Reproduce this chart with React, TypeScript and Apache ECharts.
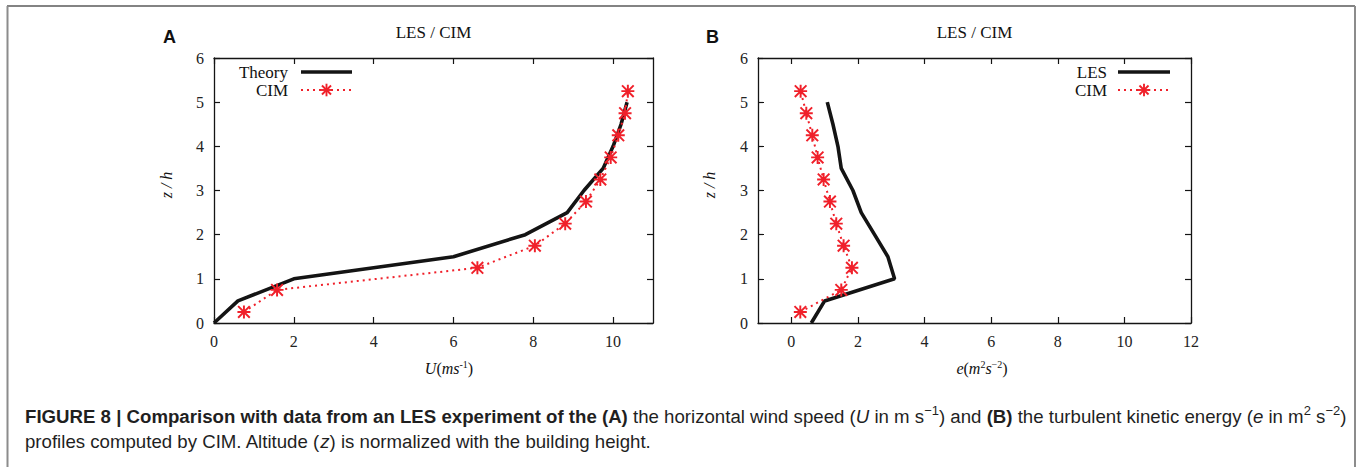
import React, { useEffect, useRef } from "react";
import * as echarts from "echarts";

// ---- data ----
const zLevels = [0, 0.5, 1, 1.5, 2, 2.5, 3, 3.5, 4, 4.5, 5];
const cimLevels = [0.25, 0.75, 1.25, 1.75, 2.25, 2.75, 3.25, 3.75, 4.25, 4.75, 5.25];
const theoryU = [0, 0.6, 2.0, 6.0, 7.8, 8.85, 9.27, 9.75, 10.0, 10.2, 10.35];
const cimU = [0.75, 1.58, 6.6, 8.04, 8.8, 9.32, 9.68, 9.94, 10.13, 10.3, 10.37];
const lesE = [0.6, 1.0, 3.1, 2.9, 2.5, 2.1, 1.85, 1.5, 1.4, 1.25, 1.08];
const cimE = [0.27, 1.5, 1.82, 1.57, 1.35, 1.16, 0.97, 0.79, 0.63, 0.45, 0.28];
const xTicksA = [0, 2, 4, 6, 8, 10];
const xTicksB = [0, 2, 4, 6, 8, 10, 12];
const yTicks = [0, 1, 2, 3, 4, 5, 6];
const panelTitles = ["LES / CIM", "LES / CIM"];
const legendA = ["Theory", "CIM"];
const legendB = ["LES", "CIM"];

const SERIF = "'Liberation Serif', 'Times New Roman', serif";
const SANS = "'Liberation Sans', Arial, Helvetica, sans-serif";
const RED = "#f0202a";
const BLACK = "#141414";
const ASTERISK =
  "path://M0 8.5H20V11.5H0Z M8.5 0H11.5V20H8.5Z M2.1 0L20 17.9L17.9 20L0 2.1Z M17.9 0L20 2.1L2.1 20L0 17.9Z";

const zip = (xs: number[], ys: number[]) => xs.map((x, i) => [x, ys[i]]);

function xAxisDef(grid: number, min: number, max: number, ticks: number[], pos: "bottom" | "top") {
  const showLabel = pos === "bottom";
  return {
    type: "value",
    gridIndex: grid,
    position: pos,
    min,
    max,
    splitLine: { show: false },
    axisLine: { show: true, onZero: false, lineStyle: { color: BLACK, width: 1.3 } },
    axisTick: { show: true, inside: true, length: 6, customValues: ticks, lineStyle: { color: BLACK, width: 1.2 } },
    axisLabel: {
      show: showLabel,
      customValues: ticks,
      margin: 10,
      color: "#222",
      fontFamily: SERIF,
      fontSize: 16,
    },
  };
}

function yAxisDef(grid: number, pos: "left" | "right") {
  const showLabel = pos === "left";
  return {
    type: "value",
    gridIndex: grid,
    position: pos,
    min: 0,
    max: 6,
    interval: 1,
    splitLine: { show: false },
    axisLine: { show: true, onZero: false, lineStyle: { color: BLACK, width: 1.3 } },
    axisTick: { show: true, inside: true, length: 6, customValues: yTicks, lineStyle: { color: BLACK, width: 1.2 } },
    axisLabel: {
      show: showLabel,
      customValues: yTicks,
      margin: 10,
      color: "#222",
      fontFamily: SERIF,
      fontSize: 16,
    },
  };
}

const lineSolid = (name: string, data: number[][], axis: number) => ({
  name,
  type: "line",
  xAxisIndex: axis,
  yAxisIndex: axis,
  data,
  symbol: "none",
  z: 2,
  lineStyle: { color: BLACK, width: 3.6 },
  itemStyle: { color: BLACK },
});

const lineCim = (name: string, data: number[][], axis: number) => ({
  name,
  type: "line",
  xAxisIndex: axis,
  yAxisIndex: axis,
  data,
  symbol: ASTERISK,
  symbolSize: 13,
  z: 3,
  lineStyle: { color: RED, width: 2, type: [2, 4] },
  itemStyle: { color: RED },
});

// manual gnuplot-style legend: label right-aligned, sample to its right
function legendGraphics(labels: string[], textRight: number, x1: number, x2: number, y0: number) {
  const out: any[] = [];
  const gap = 18;
  out.push({ type: "text", x: textRight, y: y0, style: { text: labels[0], font: `17px ${SERIF}`, fill: "#111", align: "right", verticalAlign: "middle" } });
  out.push({ type: "line", shape: { x1, y1: y0, x2, y2: y0 }, style: { stroke: BLACK, lineWidth: 3.6 } });
  const y1 = y0 + gap;
  const cx = (x1 + x2) / 2;
  out.push({ type: "text", x: textRight, y: y1, style: { text: labels[1], font: `17px ${SERIF}`, fill: "#111", align: "right", verticalAlign: "middle" } });
  out.push({ type: "line", shape: { x1, y1, x2, y2: y1 }, style: { stroke: RED, lineWidth: 2, lineDash: [2, 4] } });
  const r = 6.3;
  const d = r * 0.72;
  [
    [cx - r, y1, cx + r, y1],
    [cx, y1 - r, cx, y1 + r],
    [cx - d, y1 - d, cx + d, y1 + d],
    [cx - d, y1 + d, cx + d, y1 - d],
  ].forEach(([a, b, c, e]) =>
    out.push({ type: "line", shape: { x1: a, y1: b, x2: c, y2: e }, style: { stroke: RED, lineWidth: 1.9 } })
  );
  return out;
}

export default function App() {
  const ref = useRef<HTMLDivElement>(null);
  useEffect(() => {
    document.body.style.margin = "0";
    if (!ref.current) return;
    const chart = echarts.init(ref.current, null, { renderer: "svg" });
    const CF = 18.65;
    const captionRich = {
      b: { fontFamily: SANS, fontSize: CF, fontWeight: "bold", fill: "#1f1f1f", lineHeight: 24 },
      n: { fontFamily: SANS, fontSize: CF, fill: "#1f1f1f", lineHeight: 24 },
      i: { fontFamily: SANS, fontSize: CF, fontStyle: "italic", fill: "#1f1f1f", lineHeight: 24 },
      s: { fontFamily: SANS, fontSize: 13, fill: "#1f1f1f", lineHeight: 24, verticalAlign: "top" },
    };
    const axisNameRich = {
      i: { fontFamily: SERIF, fontSize: 16, fontStyle: "italic", fill: "#111", lineHeight: 18 },
      n: { fontFamily: SERIF, fontSize: 16, fill: "#111", lineHeight: 18 },
      s: { fontFamily: SERIF, fontSize: 10, fill: "#111", lineHeight: 18, verticalAlign: "top" },
    };
    chart.setOption({
      animation: false,
      backgroundColor: "#ffffff",
      grid: [
        { left: 214, top: 58, width: 439, height: 265 },
        { left: 758, top: 58, width: 433, height: 265 },
      ],
      xAxis: [
        xAxisDef(0, 0, 11, xTicksA, "bottom"),
        xAxisDef(0, 0, 11, xTicksA, "top"),
        xAxisDef(1, -1, 12, xTicksB, "bottom"),
        xAxisDef(1, -1, 12, xTicksB, "top"),
      ],
      yAxis: [yAxisDef(0, "left"), yAxisDef(0, "right"), yAxisDef(1, "left"), yAxisDef(1, "right")],
      series: [
        lineSolid(legendA[0], zip(theoryU, zLevels), 0),
        lineCim(legendA[1], zip(cimU, cimLevels), 0),
        lineSolid(legendB[0], zip(lesE, zLevels), 2),
        lineCim(legendB[1], zip(cimE, cimLevels), 2),
      ],
      graphic: [
        { type: "line", shape: { x1: 7, y1: 6, x2: 1355, y2: 6 }, style: { stroke: "#5a5a5a", lineWidth: 1.5 } },
        { type: "line", shape: { x1: 7.5, y1: 6, x2: 7.5, y2: 467 }, style: { stroke: "#8c8c8c", lineWidth: 2 } },
        { type: "line", shape: { x1: 1355, y1: 6, x2: 1355, y2: 467 }, style: { stroke: "#8c8c8c", lineWidth: 2 } },
        ...legendGraphics(legendA, 288, 301, 352, 72),
        ...legendGraphics(legendB, 1107, 1118, 1170, 72),
        { type: "text", x: 163, y: 37, style: { text: "A", font: `bold 18px ${SANS}`, fill: "#111", verticalAlign: "middle" } },
        { type: "text", x: 706, y: 37, style: { text: "B", font: `bold 18px ${SANS}`, fill: "#111", verticalAlign: "middle" } },
        { type: "text", x: 433.5, y: 32, style: { text: panelTitles[0], font: `17px ${SERIF}`, fill: "#111", align: "center", verticalAlign: "middle" } },
        { type: "text", x: 974.5, y: 32, style: { text: panelTitles[1], font: `17px ${SERIF}`, fill: "#111", align: "center", verticalAlign: "middle" } },
        { type: "text", x: 166, y: 185, rotation: Math.PI / 2, style: { text: "z / h", font: `italic 16px ${SERIF}`, fill: "#111", align: "center", verticalAlign: "middle" } },
        { type: "text", x: 709, y: 185, rotation: Math.PI / 2, style: { text: "z / h", font: `italic 16px ${SERIF}`, fill: "#111", align: "center", verticalAlign: "middle" } },
        {
          type: "text",
          x: 449,
          y: 368,
          style: { text: "{i|U}{n|(}{i|ms}{s|-1}{n|)}", align: "center", verticalAlign: "middle", rich: axisNameRich },
        },
        {
          type: "text",
          x: 982,
          y: 368,
          style: { text: "{i|e}{n|(}{i|m}{s|2}{i|s}{s|−2}{n|)}", align: "center", verticalAlign: "middle", rich: axisNameRich },
        },
        {
          type: "text",
          x: 25,
          y: 416,
          style: {
            text:
              "{b|FIGURE 8 | Comparison with data from an LES experiment of the (A)}{n| the horizontal wind speed (}{i|U}{n| in m s}{s|−1}{n|) and }{b|(B)}{n| the turbulent kinetic energy (}{i|e}{n| in m}{s|2}{n| s}{s|−2}{n|)}",
            verticalAlign: "middle",
            rich: captionRich,
          },
        },
        {
          type: "text",
          x: 25,
          y: 441,
          style: {
            text: "{n|profiles computed by CIM. Altitude (}{i|z}{n|) is normalized with the building height.}",
            verticalAlign: "middle",
            rich: captionRich,
          },
        },
      ],
    });
    return () => chart.dispose();
  }, []);
  return <div ref={ref} style={{ width: 1357, height: 467 }} />;
}
